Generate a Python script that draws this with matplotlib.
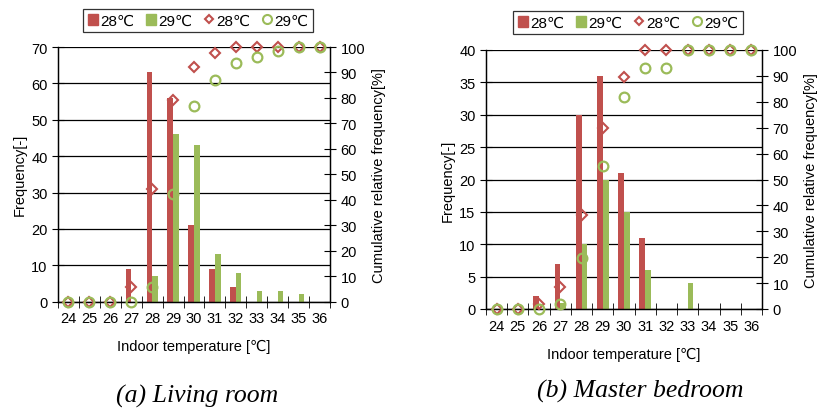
import numpy as np
import matplotlib
matplotlib.use("Agg")
import matplotlib.pyplot as plt
from matplotlib.lines import Line2D
from matplotlib.patches import Patch

plt.rcParams['font.family'] = ['Liberation Sans', 'DejaVu Sans']
plt.rcParams['font.size'] = 10.5

temps = ['24', '25', '26', '27', '28', '29', '30', '31', '32', '33', '34', '35', '36']

# (a) living room
liv_28 = [0, 0, 0, 9, 63, 56, 21, 9, 4, 0, 0, 0, 0]
liv_29 = [0, 0, 0, 0, 7, 46, 43, 13, 8, 3, 3, 2, 0]
liv_cum28 = [0, 0, 0, 5.6, 44.4, 79, 92, 97.5, 100, 100, 100, 100, 100]
liv_cum29 = [0, 0, 0, 0, 5.6, 42.4, 76.8, 87.2, 93.6, 96, 98.4, 100, 100]

# (b) master bedroom
bed_28 = [0, 0, 2, 7, 30, 36, 21, 11, 0, 0, 0, 0, 0]
bed_29 = [0, 0, 0, 1, 10, 20, 15, 6, 0, 4, 0, 0, 0]
bed_cum28 = [0, 0, 1.9, 8.4, 36.4, 70, 89.7, 100, 100, 100, 100, 100, 100]
bed_cum29 = [0, 0, 0, 1.8, 19.6, 55.4, 82, 92.9, 92.9, 100, 100, 100, 100]

red = '#C0504D'
green = '#9BBB59'

fig = plt.figure(figsize=(8.19, 4.10), dpi=100)


def panel(rect, f28, f29, c28, c29, ymax, ystep, caption, cap_xy, leg_xy):
    ax = fig.add_axes(rect)
    x = np.arange(len(temps))
    w = 0.27
    ax.bar(x - w / 2, f28, w, color=red, zorder=2)
    ax.bar(x + w / 2, f29, w, color=green, zorder=2)
    ax.set_xlim(-0.5, len(temps) - 0.5)
    ax.set_ylim(0, ymax)
    ax.set_yticks(np.arange(0, ymax + 1, ystep))
    ax.set_xticks(x)
    ax.set_xticklabels(temps)
    ax.set_xticks(np.arange(-0.5, len(temps), 1), minor=True)
    ax.tick_params(axis='x', which='major', length=0, pad=7, labelsize=10.5)
    ax.tick_params(axis='x', which='minor', length=8, direction='inout')
    ax.tick_params(axis='y', length=9, direction='inout', pad=3, labelsize=10.5)
    ax.grid(axis='y', color='black', linewidth=0.9, zorder=1)
    ax.set_axisbelow(True)
    ax.spines['top'].set_visible(False)
    for s in ax.spines.values():
        s.set_linewidth(0.9)
    ax.set_xlabel('Indoor temperature [℃]', labelpad=10)
    ax.set_ylabel('Frequency[-]', labelpad=3)

    ax2 = ax.twinx()
    ax2.plot(x, c28, linestyle='none', marker='D', markersize=4.8, mfc='none',
             mec=red, mew=1.5, zorder=4, clip_on=False)
    ax2.plot(x, c29, linestyle='none', marker='o', markersize=7, mfc='none',
             mec=green, mew=1.6, zorder=4, clip_on=False)
    ax2.set_ylim(0, 100)
    ax2.set_yticks(np.arange(0, 101, 10))
    ax2.tick_params(axis='y', length=9, direction='inout', pad=3, labelsize=10.5)
    ax2.spines['top'].set_visible(False)
    for s in ax2.spines.values():
        s.set_linewidth(0.9)
    ax2.set_ylabel('Cumulative relative frequency[%]', labelpad=5)

    handles = [Patch(color=red), Patch(color=green),
               Line2D([], [], linestyle='none', marker='D', markersize=4.5, mfc='none', mec=red, mew=1.5),
               Line2D([], [], linestyle='none', marker='o', markersize=6.5, mfc='none', mec=green, mew=1.5)]
    labels = ['28℃', '29℃', '28℃', '29℃']
    leg = fig.legend(handles, labels, loc='center', bbox_to_anchor=leg_xy, ncol=4,
                     handlelength=0.7, handleheight=0.7, handletextpad=0.15,
                     columnspacing=0.7, fancybox=False, edgecolor='black',
                     borderpad=0.3, fontsize=11)
    leg.get_frame().set_linewidth(0.9)

    fig.text(cap_xy[0], cap_xy[1], caption, ha='center', va='center',
             family='Liberation Serif', style='italic', fontsize=18.5)


panel([58 / 819, 1 - 302.7 / 410, 272 / 819, 254.7 / 410], liv_28, liv_29, liv_cum28, liv_cum29,
      70, 10, '(a) Living room', (197 / 819, 1 - 396 / 410), (198 / 819, 1 - 21.5 / 410))
panel([486 / 819, 1 - 310 / 410, 276 / 819, 259 / 410], bed_28, bed_29, bed_cum28, bed_cum29,
      40, 5, '(b) Master bedroom', (640 / 819, 1 - 391 / 410), (628 / 819, 1 - 23.5 / 410))

plt.savefig('out.png', dpi=100)
